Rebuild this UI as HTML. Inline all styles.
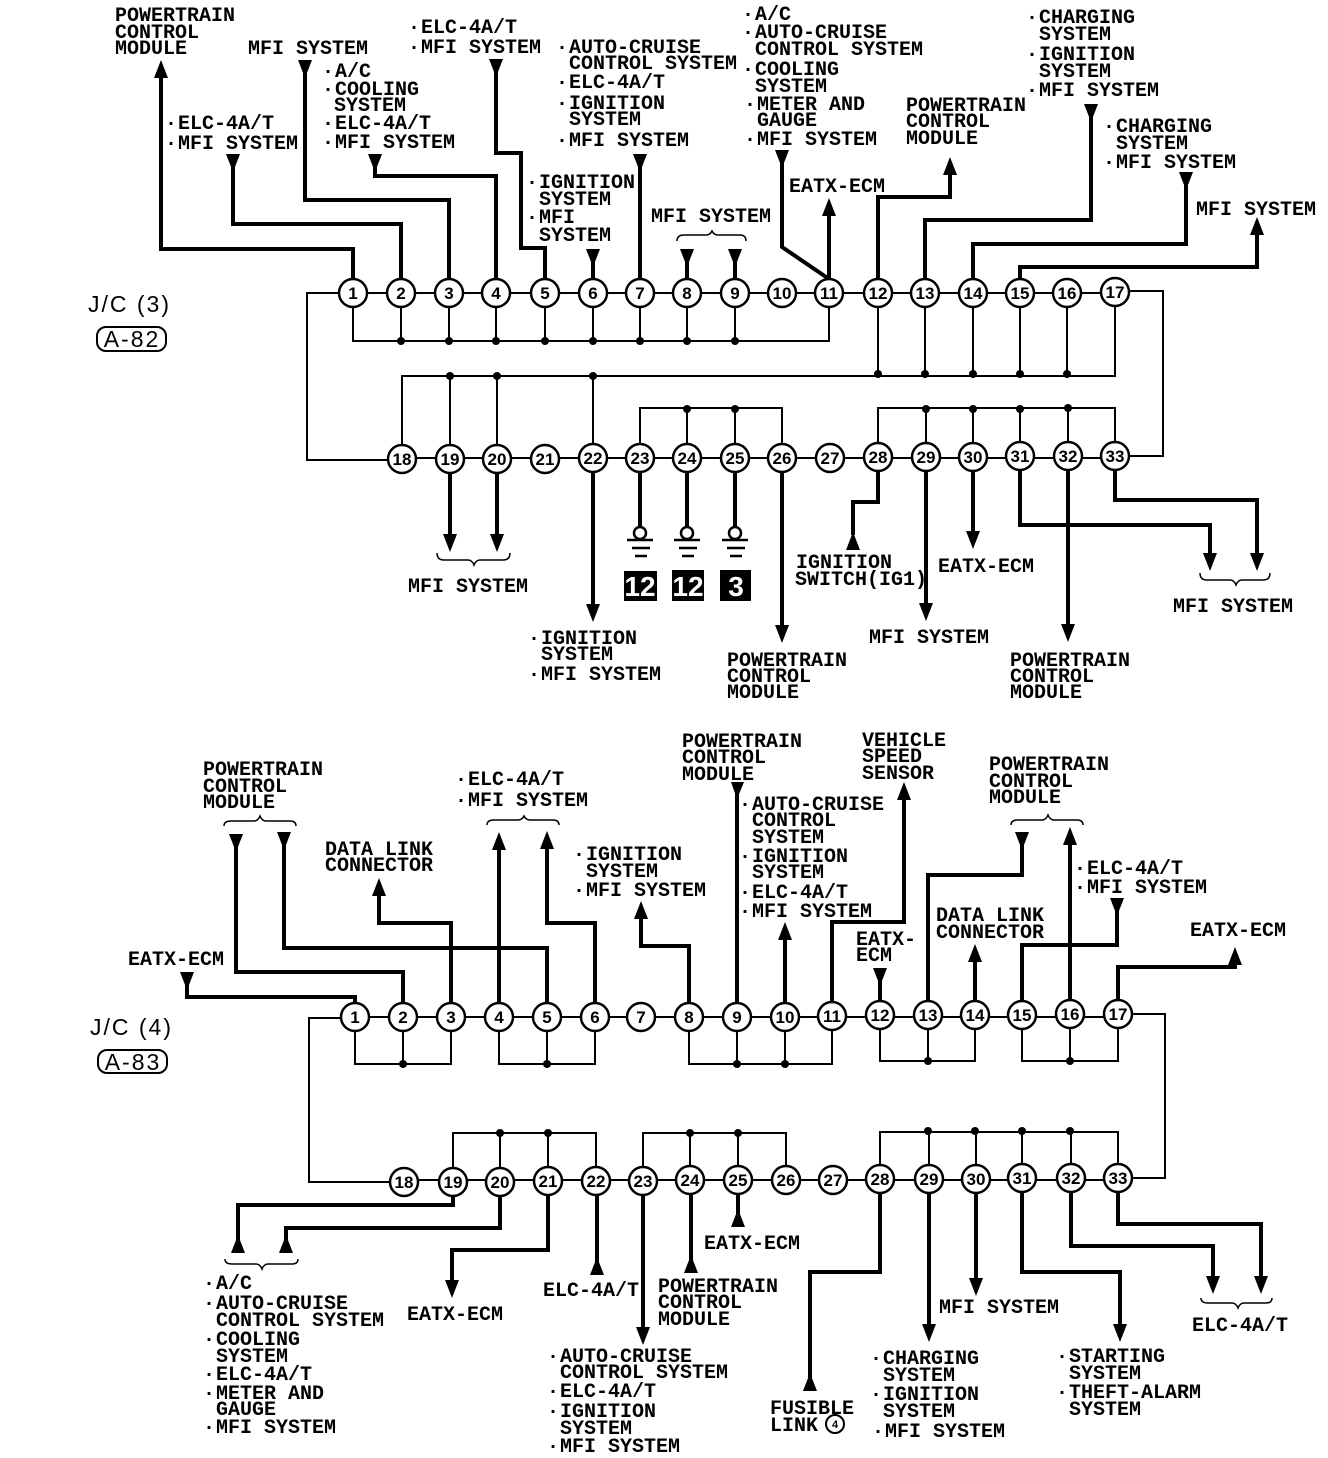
<!DOCTYPE html>
<html><head><meta charset="utf-8"><style>
html,body{margin:0;padding:0;background:#fff}
svg{display:block}
text{font-family:"Liberation Mono",monospace;font-size:20px;font-weight:bold;fill:#000}
.n{font-family:"Liberation Sans",sans-serif;font-size:17px;text-anchor:middle}
.j{font-family:"Liberation Sans",sans-serif;font-size:23px;font-weight:normal;letter-spacing:2px}
.t{fill:none;stroke:#000;stroke-width:2}
.w{fill:none;stroke:#000;stroke-width:4}
.b{fill:none;stroke:#000;stroke-width:1.5}
.g{fill:none;stroke:#000;stroke-width:2.5}
.k{font-family:"Liberation Sans",sans-serif;font-size:28px;font-weight:bold;fill:#fff;text-anchor:middle}
</style></head><body>
<svg width="1328" height="1458" viewBox="0 0 1328 1458" xmlns="http://www.w3.org/2000/svg">
<defs>
<polygon id="u" points="0,0 -7,18 7,18"/>
<polygon id="d" points="0,0 -7,-18 7,-18"/>
<circle id="o" r="4"/>
<circle id="r" r="14"/>
</defs>

<!-- J/C 3 thin -->
<path class="t" d="M353,293H1115M1115,291H1163V456H1115M353,293H307V460H402M402,458H1115"/>
<path class="t" d="M353,293V341H829V293M401,293V341M449,293V341M496,293V341M545,293V341M593,293V341M640,293V341M687,293V341M735,293V341"/>
<path class="t" d="M402,458V376H1115V293M878,293V376M925,293V376M973,293V376M1020,293V376M1067,293V376M450,458V376M497,458V376M593,458V376"/>
<path class="t" d="M640,458V408H782V458M687,458V408M735,458V408M878,458V408H1115V458M926,458V408M973,458V408M1020,458V408M1068,458V408"/>
<g>
<use href="#o" x="401" y="341"/><use href="#o" x="449" y="341"/><use href="#o" x="496" y="341"/><use href="#o" x="545" y="341"/><use href="#o" x="593" y="341"/><use href="#o" x="640" y="341"/><use href="#o" x="687" y="341"/><use href="#o" x="735" y="341"/>
<use href="#o" x="450" y="376"/><use href="#o" x="497" y="376"/><use href="#o" x="593" y="376"/><use href="#o" x="878" y="374"/><use href="#o" x="925" y="374"/><use href="#o" x="973" y="374"/><use href="#o" x="1020" y="374"/><use href="#o" x="1067" y="374"/>
<use href="#o" x="687" y="409"/><use href="#o" x="735" y="409"/><use href="#o" x="926" y="409"/><use href="#o" x="973" y="409"/><use href="#o" x="1020" y="409"/><use href="#o" x="1068" y="408"/>
</g>
<!-- J/C 3 thick -->
<path class="w" d="M353,282V249H161V75"/><use href="#u" x="161" y="60"/>
<path class="w" d="M401,282V224H233V165"/><use href="#d" x="233" y="172"/>
<path class="w" d="M449,282V200H305V70"/><use href="#d" x="305" y="78"/>
<path class="w" d="M496,282V176H375V165"/><use href="#d" x="375" y="172"/>
<path class="w" d="M545,282V248H521V153H496V70"/><use href="#d" x="496" y="77"/>
<path class="w" d="M593,282V260"/><use href="#d" x="593" y="267"/>
<path class="w" d="M640,282V165"/><use href="#d" x="640" y="172"/>
<path class="w" d="M687,282V260"/><use href="#d" x="687" y="267"/>
<path class="w" d="M735,282V260"/><use href="#d" x="735" y="267"/>
<path class="w" d="M829,279L782,247V160"/><use href="#d" x="782" y="168"/>
<path class="w" d="M829,282V212"/><use href="#u" x="829" y="198"/>
<path class="w" d="M878,282V197H950V174"/><use href="#u" x="950" y="157"/>
<path class="w" d="M925,282V220H1091V115"/><use href="#d" x="1091" y="122"/>
<path class="w" d="M973,282V244H1186V182"/><use href="#d" x="1186" y="190"/>
<path class="w" d="M1020,282V267H1257V232"/><use href="#u" x="1257" y="217"/>
<path class="w" d="M450,470V540"/><use href="#d" x="450" y="552"/>
<path class="w" d="M497,470V540"/><use href="#d" x="497" y="552"/>
<path class="w" d="M593,470V610"/><use href="#d" x="593" y="622"/>
<path class="w" d="M640,470V527M687,470V527M735,470V527"/>
<path class="w" d="M782,470V630"/><use href="#d" x="782" y="643"/>
<path class="w" d="M878,470V502H853V535"/><use href="#u" x="853" y="532"/>
<path class="w" d="M926,470V610"/><use href="#d" x="926" y="621"/>
<path class="w" d="M973,470V537"/><use href="#d" x="973" y="549"/>
<path class="w" d="M1020,470V525H1210V560"/><use href="#d" x="1210" y="571"/>
<path class="w" d="M1068,470V630"/><use href="#d" x="1068" y="642"/>
<path class="w" d="M1115,470V500H1257V560"/><use href="#d" x="1257" y="571"/>
<!-- grounds -->
<g class="g"><circle cx="640" cy="533" r="6"/><circle cx="687" cy="533" r="6"/><circle cx="735" cy="533" r="6"/>
<path d="M627,540H653M632,548H650M635,556H647M674,540H700M679,548H697M682,556H694M722,540H748M727,548H745M730,556H742"/></g>
<rect x="624" y="571" width="33" height="30"/><rect x="672" y="570" width="32" height="31"/><rect x="720" y="570" width="31" height="31"/>
<text class="k" x="640" y="596">12</text><text class="k" x="688" y="596">12</text><text class="k" x="736" y="596">3</text>
<!-- circles 3 -->
<g fill="#fff" stroke="#000" stroke-width="2.5">
<use href="#r" x="353" y="293"/><use href="#r" x="401" y="293"/><use href="#r" x="449" y="293"/><use href="#r" x="496" y="293"/><use href="#r" x="545" y="293"/><use href="#r" x="593" y="293"/><use href="#r" x="640" y="293"/><use href="#r" x="687" y="293"/><use href="#r" x="735" y="293"/><use href="#r" x="782" y="293"/><use href="#r" x="829" y="293"/><use href="#r" x="878" y="293"/><use href="#r" x="925" y="293"/><use href="#r" x="973" y="293"/><use href="#r" x="1020" y="293"/><use href="#r" x="1067" y="293"/><use href="#r" x="1115" y="292"/>
<use href="#r" x="402" y="459"/><use href="#r" x="450" y="459"/><use href="#r" x="497" y="459"/><use href="#r" x="545" y="459"/><use href="#r" x="593" y="458"/><use href="#r" x="640" y="458"/><use href="#r" x="687" y="458"/><use href="#r" x="735" y="458"/><use href="#r" x="782" y="458"/><use href="#r" x="830" y="458"/><use href="#r" x="878" y="457"/><use href="#r" x="926" y="457"/><use href="#r" x="973" y="457"/><use href="#r" x="1020" y="456"/><use href="#r" x="1068" y="456"/><use href="#r" x="1115" y="456"/>
</g>
<g>
<text class="n" x="353" y="299">1</text><text class="n" x="401" y="299">2</text><text class="n" x="449" y="299">3</text><text class="n" x="496" y="299">4</text><text class="n" x="545" y="299">5</text><text class="n" x="593" y="299">6</text><text class="n" x="640" y="299">7</text><text class="n" x="687" y="299">8</text><text class="n" x="735" y="299">9</text><text class="n" x="782" y="299">10</text><text class="n" x="829" y="299">11</text><text class="n" x="878" y="299">12</text><text class="n" x="925" y="299">13</text><text class="n" x="973" y="299">14</text><text class="n" x="1020" y="299">15</text><text class="n" x="1067" y="299">16</text><text class="n" x="1115" y="298">17</text>
<text class="n" x="402" y="465">18</text><text class="n" x="450" y="465">19</text><text class="n" x="497" y="465">20</text><text class="n" x="545" y="465">21</text><text class="n" x="593" y="464">22</text><text class="n" x="640" y="464">23</text><text class="n" x="687" y="464">24</text><text class="n" x="735" y="464">25</text><text class="n" x="782" y="464">26</text><text class="n" x="830" y="464">27</text><text class="n" x="878" y="463">28</text><text class="n" x="926" y="463">29</text><text class="n" x="973" y="463">30</text><text class="n" x="1020" y="462">31</text><text class="n" x="1068" y="462">32</text><text class="n" x="1115" y="462">33</text>
</g>
<!-- J/C 3 labels -->
<text x="115" y="21">POWERTRAIN</text><text x="115" y="38">CONTROL</text><text x="115" y="54">MODULE</text>
<text x="248" y="54">MFI SYSTEM</text>
<text x="170" y="129"><tspan dx="-5">·</tspan><tspan dx="1">ELC-4A/T</tspan></text><text x="170" y="149"><tspan dx="-5">·</tspan><tspan dx="1">MFI SYSTEM</tspan></text>
<text x="327" y="77"><tspan dx="-5">·</tspan><tspan dx="1">A/C</tspan></text><text x="327" y="95"><tspan dx="-5">·</tspan><tspan dx="1">COOLING</tspan></text><text x="334" y="111">SYSTEM</text><text x="327" y="129"><tspan dx="-5">·</tspan><tspan dx="1">ELC-4A/T</tspan></text><text x="327" y="148"><tspan dx="-5">·</tspan><tspan dx="1">MFI SYSTEM</tspan></text>
<text x="413" y="33"><tspan dx="-5">·</tspan><tspan dx="1">ELC-4A/T</tspan></text><text x="413" y="53"><tspan dx="-5">·</tspan><tspan dx="1">MFI SYSTEM</tspan></text>
<text x="561" y="53"><tspan dx="-5">·</tspan><tspan dx="1">AUTO-CRUISE</tspan></text><text x="569" y="69">CONTROL SYSTEM</text><text x="561" y="88"><tspan dx="-5">·</tspan><tspan dx="1">ELC-4A/T</tspan></text><text x="561" y="109"><tspan dx="-5">·</tspan><tspan dx="1">IGNITION</tspan></text><text x="569" y="125">SYSTEM</text><text x="561" y="146"><tspan dx="-5">·</tspan><tspan dx="1">MFI SYSTEM</tspan></text>
<text x="531" y="188"><tspan dx="-5">·</tspan><tspan dx="1">IGNITION</tspan></text><text x="539" y="205">SYSTEM</text><text x="531" y="223"><tspan dx="-5">·</tspan><tspan dx="1">MFI</tspan></text><text x="539" y="241">SYSTEM</text>
<text x="651" y="222">MFI SYSTEM</text>
<path class="b" d="M677,241Q677,235 684,235H706Q710,235 712,231Q714,235 718,235H740Q746,235 746,241"/>
<text x="747" y="20"><tspan dx="-5">·</tspan><tspan dx="1">A/C</tspan></text><text x="747" y="38"><tspan dx="-5">·</tspan><tspan dx="1">AUTO-CRUISE</tspan></text><text x="755" y="55">CONTROL SYSTEM</text><text x="747" y="75"><tspan dx="-5">·</tspan><tspan dx="1">COOLING</tspan></text><text x="755" y="92">SYSTEM</text><text x="749" y="110"><tspan dx="-5">·</tspan><tspan dx="1">METER AND</tspan></text><text x="757" y="126">GAUGE</text><text x="749" y="145"><tspan dx="-5">·</tspan><tspan dx="1">MFI SYSTEM</tspan></text>
<text x="789" y="192">EATX-ECM</text>
<text x="906" y="111">POWERTRAIN</text><text x="906" y="127">CONTROL</text><text x="906" y="144">MODULE</text>
<text x="1031" y="23"><tspan dx="-5">·</tspan><tspan dx="1">CHARGING</tspan></text><text x="1039" y="40">SYSTEM</text><text x="1031" y="60"><tspan dx="-5">·</tspan><tspan dx="1">IGNITION</tspan></text><text x="1039" y="77">SYSTEM</text><text x="1031" y="96"><tspan dx="-5">·</tspan><tspan dx="1">MFI SYSTEM</tspan></text>
<text x="1108" y="132"><tspan dx="-5">·</tspan><tspan dx="1">CHARGING</tspan></text><text x="1116" y="149">SYSTEM</text><text x="1108" y="168"><tspan dx="-5">·</tspan><tspan dx="1">MFI SYSTEM</tspan></text>
<text x="1196" y="215">MFI SYSTEM</text>
<text class="j" x="88" y="312">J/C (3)</text>
<rect class="t" x="97" y="327" width="69" height="24" rx="9"/>
<text class="j" x="132" y="347" text-anchor="middle">A-82</text>
<path class="b" d="M437,553Q437,560 444,560H468Q472,560 474,565Q476,560 480,560H503Q510,560 510,553"/>
<text x="408" y="592">MFI SYSTEM</text>
<text x="533" y="644"><tspan dx="-5">·</tspan><tspan dx="1">IGNITION</tspan></text><text x="541" y="660">SYSTEM</text><text x="533" y="680"><tspan dx="-5">·</tspan><tspan dx="1">MFI SYSTEM</tspan></text>
<text x="727" y="666">POWERTRAIN</text><text x="727" y="682">CONTROL</text><text x="727" y="698">MODULE</text>
<text x="796" y="568">IGNITION</text><text x="795" y="585">SWITCH(IG1)</text>
<text x="938" y="572">EATX-ECM</text>
<text x="869" y="643">MFI SYSTEM</text>
<text x="1010" y="666">POWERTRAIN</text><text x="1010" y="682">CONTROL</text><text x="1010" y="698">MODULE</text>
<path class="b" d="M1200,573Q1200,580 1207,580H1230Q1234,580 1236,585Q1238,580 1242,580H1263Q1270,580 1270,573"/>
<text x="1173" y="612">MFI SYSTEM</text>

<!-- J/C 4 thin -->
<path class="t" d="M355,1017H1118M1118,1014H1165V1178H1118M355,1018H309V1182H404M404,1180H1118"/>
<path class="t" d="M355,1017V1064H451V1017M403,1017V1064M499,1017V1064H595V1017M547,1017V1064M689,1017V1064H832V1017M737,1017V1064M785,1017V1064M880,1017V1061H975V1017M928,1017V1061M1022,1017V1061H1118V1017M1070,1017V1061"/>
<path class="t" d="M453,1180V1133H596V1180M500,1180V1133M548,1180V1133M643,1180V1133H786V1180M690,1180V1133M738,1180V1133M880,1180V1132H1118V1180M929,1180V1132M976,1180V1132M1022,1180V1132M1071,1180V1132"/>
<g>
<use href="#o" x="403" y="1064"/><use href="#o" x="547" y="1064"/><use href="#o" x="737" y="1064"/><use href="#o" x="785" y="1064"/><use href="#o" x="928" y="1061"/><use href="#o" x="1070" y="1061"/>
<use href="#o" x="500" y="1133"/><use href="#o" x="548" y="1133"/><use href="#o" x="690" y="1133"/><use href="#o" x="738" y="1133"/><use href="#o" x="928" y="1131"/><use href="#o" x="975" y="1131"/><use href="#o" x="1022" y="1131"/><use href="#o" x="1070" y="1131"/>
</g>
<!-- J/C 4 thick -->
<path class="w" d="M355,1006V997H187V982"/><use href="#d" x="187" y="990"/>
<path class="w" d="M403,1006V972H236V845"/><use href="#d" x="236" y="852"/>
<path class="w" d="M451,1006V923H379V895"/><use href="#u" x="379" y="878"/>
<path class="w" d="M499,1006V848"/><use href="#u" x="499" y="832"/>
<path class="w" d="M547,1006V948H284V845"/><use href="#d" x="284" y="850"/>
<path class="w" d="M595,1006V923H547V848"/><use href="#u" x="547" y="831"/>
<path class="w" d="M689,1006V946H641V918"/><use href="#u" x="641" y="901"/>
<polygon points="731,782 744,782 737,799"/><path class="w" d="M737,1006V790"/>
<path class="w" d="M785,1006V940"/><use href="#u" x="785" y="922"/>
<path class="w" d="M832,1006V922H904V798"/><use href="#u" x="904" y="782"/>
<path class="w" d="M880,1006V978"/><use href="#d" x="880" y="986"/>
<path class="w" d="M928,1006V875H1022V845"/><use href="#d" x="1022" y="850"/>
<path class="w" d="M975,1006V960"/><use href="#u" x="975" y="944"/>
<path class="w" d="M1022,1006V945H1117V908"/><use href="#d" x="1117" y="916"/>
<path class="w" d="M1070,1006V843"/><use href="#u" x="1070" y="827"/>
<path class="w" d="M1118,1006V967H1235V963"/><use href="#u" x="1235" y="947"/>
<path class="w" d="M453,1192V1205H238V1240"/><use href="#u" x="238" y="1235"/>
<path class="w" d="M500,1192V1228H286V1240"/><use href="#u" x="286" y="1235"/>
<path class="w" d="M548,1192V1250H452V1285"/><use href="#d" x="452" y="1298"/>
<path class="w" d="M597,1192V1262"/><use href="#u" x="597" y="1257"/>
<path class="w" d="M643,1192V1332"/><use href="#d" x="643" y="1345"/>
<path class="w" d="M691,1192V1265"/><use href="#u" x="691" y="1255"/>
<path class="w" d="M738,1192V1215"/><use href="#u" x="738" y="1209"/>
<path class="w" d="M880,1192V1272H810V1385"/><use href="#u" x="810" y="1373"/>
<path class="w" d="M929,1192V1330"/><use href="#d" x="929" y="1342"/>
<path class="w" d="M976,1192V1284"/><use href="#d" x="976" y="1296"/>
<path class="w" d="M1022,1192V1272H1120V1330"/><use href="#d" x="1120" y="1342"/>
<path class="w" d="M1071,1192V1246H1213V1282"/><use href="#d" x="1213" y="1294"/>
<path class="w" d="M1118,1192V1224H1261V1282"/><use href="#d" x="1261" y="1294"/>
<!-- circles 4 -->
<g fill="#fff" stroke="#000" stroke-width="2.5">
<use href="#r" x="355" y="1017"/><use href="#r" x="403" y="1017"/><use href="#r" x="451" y="1017"/><use href="#r" x="499" y="1017"/><use href="#r" x="547" y="1017"/><use href="#r" x="595" y="1017"/><use href="#r" x="641" y="1017"/><use href="#r" x="689" y="1017"/><use href="#r" x="737" y="1017"/><use href="#r" x="785" y="1017"/><use href="#r" x="832" y="1016"/><use href="#r" x="880" y="1015"/><use href="#r" x="928" y="1015"/><use href="#r" x="975" y="1015"/><use href="#r" x="1022" y="1015"/><use href="#r" x="1070" y="1014"/><use href="#r" x="1118" y="1014"/>
<use href="#r" x="404" y="1182"/><use href="#r" x="453" y="1182"/><use href="#r" x="500" y="1182"/><use href="#r" x="548" y="1181"/><use href="#r" x="596" y="1181"/><use href="#r" x="643" y="1181"/><use href="#r" x="690" y="1180"/><use href="#r" x="738" y="1180"/><use href="#r" x="786" y="1180"/><use href="#r" x="833" y="1180"/><use href="#r" x="880" y="1179"/><use href="#r" x="929" y="1179"/><use href="#r" x="976" y="1179"/><use href="#r" x="1022" y="1178"/><use href="#r" x="1071" y="1178"/><use href="#r" x="1118" y="1178"/>
</g>
<g>
<text class="n" x="355" y="1023">1</text><text class="n" x="403" y="1023">2</text><text class="n" x="451" y="1023">3</text><text class="n" x="499" y="1023">4</text><text class="n" x="547" y="1023">5</text><text class="n" x="595" y="1023">6</text><text class="n" x="641" y="1023">7</text><text class="n" x="689" y="1023">8</text><text class="n" x="737" y="1023">9</text><text class="n" x="785" y="1023">10</text><text class="n" x="832" y="1022">11</text><text class="n" x="880" y="1021">12</text><text class="n" x="928" y="1021">13</text><text class="n" x="975" y="1021">14</text><text class="n" x="1022" y="1021">15</text><text class="n" x="1070" y="1020">16</text><text class="n" x="1118" y="1020">17</text>
<text class="n" x="404" y="1188">18</text><text class="n" x="453" y="1188">19</text><text class="n" x="500" y="1188">20</text><text class="n" x="548" y="1187">21</text><text class="n" x="596" y="1187">22</text><text class="n" x="643" y="1187">23</text><text class="n" x="690" y="1186">24</text><text class="n" x="738" y="1186">25</text><text class="n" x="786" y="1186">26</text><text class="n" x="833" y="1186">27</text><text class="n" x="880" y="1185">28</text><text class="n" x="929" y="1185">29</text><text class="n" x="976" y="1185">30</text><text class="n" x="1022" y="1184">31</text><text class="n" x="1071" y="1184">32</text><text class="n" x="1118" y="1184">33</text>
</g>
<!-- J/C 4 labels -->
<text x="203" y="775">POWERTRAIN</text><text x="203" y="792">CONTROL</text><text x="203" y="808">MODULE</text>
<path class="b" d="M224,826Q224,821 231,821H254Q258,821 260,816Q262,821 266,821H290Q296,821 296,826"/>
<text x="460" y="785"><tspan dx="-5">·</tspan><tspan dx="1">ELC-4A/T</tspan></text><text x="460" y="806"><tspan dx="-5">·</tspan><tspan dx="1">MFI SYSTEM</tspan></text>
<path class="b" d="M487,825Q487,820 494,820H518Q522,820 524,816Q526,820 530,820H553Q559,820 559,825"/>
<text x="325" y="855">DATA LINK</text><text x="325" y="871">CONNECTOR</text>
<text x="578" y="860"><tspan dx="-5">·</tspan><tspan dx="1">IGNITION</tspan></text><text x="586" y="877">SYSTEM</text><text x="578" y="896"><tspan dx="-5">·</tspan><tspan dx="1">MFI SYSTEM</tspan></text>
<text x="682" y="747">POWERTRAIN</text><text x="682" y="763">CONTROL</text><text x="682" y="780">MODULE</text>
<text x="862" y="746">VEHICLE</text><text x="862" y="762">SPEED</text><text x="862" y="779">SENSOR</text>
<text x="744" y="810"><tspan dx="-5">·</tspan><tspan dx="1">AUTO-CRUISE</tspan></text><text x="752" y="826">CONTROL</text><text x="752" y="843">SYSTEM</text><text x="744" y="862"><tspan dx="-5">·</tspan><tspan dx="1">IGNITION</tspan></text><text x="752" y="878">SYSTEM</text><text x="744" y="898"><tspan dx="-5">·</tspan><tspan dx="1">ELC-4A/T</tspan></text><text x="744" y="917"><tspan dx="-5">·</tspan><tspan dx="1">MFI SYSTEM</tspan></text>
<text x="989" y="770">POWERTRAIN</text><text x="989" y="787">CONTROL</text><text x="989" y="803">MODULE</text>
<path class="b" d="M1011,825Q1011,820 1018,820H1042Q1046,820 1048,815Q1050,820 1054,820H1077Q1083,820 1083,825"/>
<text x="1079" y="874"><tspan dx="-5">·</tspan><tspan dx="1">ELC-4A/T</tspan></text><text x="1079" y="893"><tspan dx="-5">·</tspan><tspan dx="1">MFI SYSTEM</tspan></text>
<text x="856" y="945">EATX-</text><text x="856" y="961">ECM</text>
<text x="936" y="921">DATA LINK</text><text x="936" y="938">CONNECTOR</text>
<text x="1190" y="936">EATX-ECM</text>
<text x="128" y="965">EATX-ECM</text>
<text class="j" x="90" y="1035">J/C (4)</text>
<rect class="t" x="98" y="1050" width="69" height="23" rx="9"/>
<text class="j" x="133" y="1070" text-anchor="middle">A-83</text>
<path class="b" d="M225,1259Q225,1264 232,1264H256Q260,1264 262,1269Q264,1264 268,1264H292Q298,1264 298,1259"/>
<text x="208" y="1289"><tspan dx="-5">·</tspan><tspan dx="1">A/C</tspan></text><text x="208" y="1309"><tspan dx="-5">·</tspan><tspan dx="1">AUTO-CRUISE</tspan></text><text x="216" y="1326">CONTROL SYSTEM</text><text x="208" y="1345"><tspan dx="-5">·</tspan><tspan dx="1">COOLING</tspan></text><text x="216" y="1362">SYSTEM</text><text x="208" y="1380"><tspan dx="-5">·</tspan><tspan dx="1">ELC-4A/T</tspan></text><text x="208" y="1399"><tspan dx="-5">·</tspan><tspan dx="1">METER AND</tspan></text><text x="216" y="1415">GAUGE</text><text x="208" y="1433"><tspan dx="-5">·</tspan><tspan dx="1">MFI SYSTEM</tspan></text>
<text x="407" y="1320">EATX-ECM</text>
<text x="543" y="1296">ELC-4A/T</text>
<text x="658" y="1292">POWERTRAIN</text><text x="658" y="1308">CONTROL</text><text x="658" y="1325">MODULE</text>
<text x="552" y="1362"><tspan dx="-5">·</tspan><tspan dx="1">AUTO-CRUISE</tspan></text><text x="560" y="1378">CONTROL SYSTEM</text><text x="552" y="1397"><tspan dx="-5">·</tspan><tspan dx="1">ELC-4A/T</tspan></text><text x="552" y="1417"><tspan dx="-5">·</tspan><tspan dx="1">IGNITION</tspan></text><text x="560" y="1434">SYSTEM</text><text x="552" y="1452"><tspan dx="-5">·</tspan><tspan dx="1">MFI SYSTEM</tspan></text>
<text x="704" y="1249">EATX-ECM</text>
<text x="770" y="1414">FUSIBLE</text><text x="770" y="1431">LINK</text>
<circle cx="835" cy="1424" r="9" fill="none" stroke="#000" stroke-width="2"/><text x="835" y="1428" text-anchor="middle" style="font-family:'Liberation Sans',sans-serif;font-size:11px">4</text>
<text x="875" y="1364"><tspan dx="-5">·</tspan><tspan dx="1">CHARGING</tspan></text><text x="883" y="1381">SYSTEM</text><text x="875" y="1400"><tspan dx="-5">·</tspan><tspan dx="1">IGNITION</tspan></text><text x="883" y="1417">SYSTEM</text><text x="877" y="1437"><tspan dx="-5">·</tspan><tspan dx="1">MFI SYSTEM</tspan></text>
<text x="939" y="1313">MFI SYSTEM</text>
<text x="1061" y="1362"><tspan dx="-5">·</tspan><tspan dx="1">STARTING</tspan></text><text x="1069" y="1379">SYSTEM</text><text x="1061" y="1398"><tspan dx="-5">·</tspan><tspan dx="1">THEFT-ALARM</tspan></text><text x="1069" y="1415">SYSTEM</text>
<path class="b" d="M1201,1298Q1201,1303 1208,1303H1232Q1236,1303 1238,1308Q1240,1303 1244,1303H1266Q1272,1303 1272,1298"/>
<text x="1192" y="1331">ELC-4A/T</text>
</svg>
</body></html>
